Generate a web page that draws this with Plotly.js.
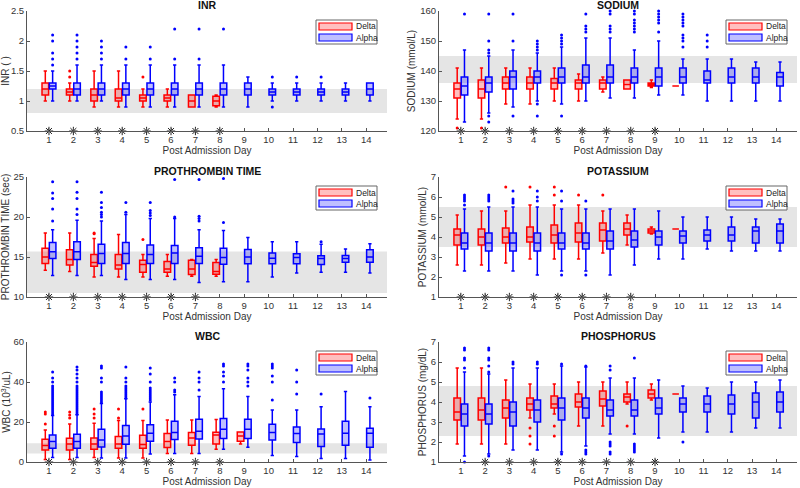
<!DOCTYPE html>
<html><head><meta charset="utf-8">
<script src="https://cdn.plot.ly/plotly-3.0.1.min.js"></script>
<style>html,body{margin:0;padding:0;background:#fff}#chart{width:800px;height:488px}</style>
</head><body><div id="chart"></div>
<script>
const days = [1,2,3,4,5,6,7,8,9,10,11,12,13,14];

// ---------- INR ----------
const inrNormal = [0.8, 1.2];
const inrStars = [1,2,3,4,5,6,7,8];
const inrDeltaLo  = [1.0, 1.0, 0.9, 0.9, 0.9, 0.9, 0.9, 0.9];
const inrDeltaQ1  = [1.1, 1.1, 1.0, 1.0, 1.0, 1.0, 0.9, 0.92];
const inrDeltaMed = [1.2, 1.15, 1.1, 1.05, 1.05, 1.05, 1.0, 1.0];
const inrDeltaQ3  = [1.3, 1.2, 1.2, 1.2, 1.1, 1.1, 1.1, 1.08];
const inrDeltaHi  = [1.5, 1.3, 1.5, 1.5, 1.2, 1.2, 1.1, 1.1];
const inrDeltaOut = [[], [1.4, 1.5], [], [], [1.4], [], [], []];
const inrAlphaLo  = [1.0, 1.0, 1.0, 0.9, 0.9, 0.9, 0.9, 0.9, 0.9, 1.0, 1.0, 1.0, 1.0, 1.0];
const inrAlphaQ1  = [1.2, 1.1, 1.1, 1.1, 1.1, 1.1, 1.1, 1.1, 1.1, 1.1, 1.1, 1.1, 1.1, 1.1];
const inrAlphaMed = [1.25, 1.2, 1.2, 1.2, 1.2, 1.2, 1.2, 1.2, 1.2, 1.15, 1.15, 1.15, 1.15, 1.2];
const inrAlphaQ3  = [1.3, 1.3, 1.3, 1.3, 1.3, 1.3, 1.3, 1.3, 1.3, 1.2, 1.2, 1.2, 1.2, 1.3];
const inrAlphaHi  = [1.5, 1.6, 1.6, 1.6, 1.6, 1.6, 1.6, 1.6, 1.4, 1.3, 1.3, 1.3, 1.3, 1.3];
const inrAlphaOut = [[1.6,1.7,1.8,2.0,2.1],[1.7,1.8,1.9,2.0,2.1],[1.7,1.8,1.9,2.0],[1.7,1.9],[1.7,1.9],[1.7,2.2],[1.7,2.2],[2.2],[],[1.4,0.9],[1.4],[1.4],[],[]];

// ---------- SODIUM ----------
const naNormal = [136, 145];
const naStars = [1,2,3,4,5,6,7,8,9];
const naDeltaLo  = [124, 124, 129, 129, 130, 130, 133, 134, 134.5, 135];
const naDeltaQ1  = [131, 131, 134, 134, 134, 134, 134, 134, 135, 135];
const naDeltaMed = [134, 134, 136, 136, 136, 136, 136, 135.5, 135.5, 135];
const naDeltaQ3  = [136, 137, 138, 138, 137.5, 137, 137, 137, 136, 135];
const naDeltaHi  = [141, 141, 141, 141, 141, 139, 138, 137, 137, 135];
const naDeltaOut = [[121],[121],[],[],[],[],[],[],[],[]];
const naAlphaLo  = [123, 126, 128, 130, 129, 130, 131, 131, 132, 132, 130, 130, 130, 130];
const naAlphaQ1  = [132, 133, 134, 136, 136, 136, 136, 136, 135, 136, 136, 136, 136, 135];
const naAlphaMed = [135, 136, 138, 138, 138, 138, 138, 138, 138, 138, 137, 138, 138, 138];
const naAlphaQ3  = [138, 138, 140, 140, 141, 142, 142, 141, 141, 141, 140, 141, 141, 139.5];
const naAlphaHi  = [147, 145, 147, 146, 148, 151, 151, 147, 150, 144, 144, 144, 143, 143];
const naAlphaOut = [[159],[146,147,150,159,125,123],[150,159,125],[147,148,149,150,129,125],[149,150,151,152,125],[153,154,155,159],[153,154,155,159,160],[153,154,155,156,157,159,160],[153,156,157,158,159,160],[148,150,151,152,155,156,157,158,159],[148,150,152],[],[],[]];

// ---------- PROTHROMBIN TIME ----------
const ptNormal = [10.5, 15.7];
const ptStars = [1,2,3,4,5,6,7];
const ptDeltaLo  = [13.35, 13.2, 12.5, 12.5, 12.5, 12.6, 12.6, 12.6];
const ptDeltaQ1  = [14.2, 14.0, 13.85, 13.5, 13.1, 13.1, 12.8, 12.85];
const ptDeltaMed = [15.0, 14.7, 14.3, 14.0, 14.05, 13.5, 13.5, 13.2];
const ptDeltaQ3  = [16.1, 15.9, 15.3, 15.3, 14.6, 14.45, 14.6, 14.3];
const ptDeltaHi  = [18.0, 18.0, 17.3, 17.8, 15.3, 15.3, 14.7, 14.7];
const ptDeltaOut = [[],[],[17.9,18.0],[],[17.2],[],[],[]];
const ptAlphaLo  = [12.7, 12.7, 12.7, 12.2, 12.2, 12.2, 11.8, 11.9, 11.9, 12.5, 13.0, 13.1, 13.1, 13.0];
const ptAlphaQ1  = [14.8, 14.7, 14.2, 14.2, 14.2, 14.2, 14.2, 14.1, 14.15, 14.15, 14.15, 14.05, 14.35, 14.35];
const ptAlphaMed = [15.65, 15.65, 15.45, 15.45, 15.3, 15.5, 15.1, 14.95, 15.0, 14.85, 14.95, 14.8, 14.8, 15.0];
const ptAlphaQ3  = [16.8, 16.9, 16.6, 16.8, 16.5, 16.45, 16.15, 16.1, 15.95, 15.5, 15.4, 15.15, 15.2, 15.9];
const ptAlphaHi  = [18.4, 19.6, 19.5, 20.3, 19.8, 19.8, 18.4, 18.3, 17.45, 16.9, 16.9, 16.6, 16.0, 16.65];
const ptAlphaOut = [[19.5,21.0,22.3,23.0,24.4],[20.3,21.0,22.3,23.1,24.4],[20.0,20.3,20.6,21.2,21.8,23.1],[20.6,21.8],[20.2,20.5,20.8,21.8],[20.0,24.7],[19.5,19.8,20.1,24.7],[19.3,24.8],[],[],[],[16.9],[],[]];

// ---------- POTASSIUM ----------
const kNormal = [3.5, 5.5];
const kStars = [1,2,3,4,5,6,7,8];
const kDeltaLo  = [2.6, 2.6, 2.7, 2.9, 2.9, 2.9, 3.2, 3.6, 4.15, 4.4];
const kDeltaQ1  = [3.6, 3.6, 3.7, 3.75, 3.7, 3.75, 3.8, 4.1, 4.2, 4.4];
const kDeltaMed = [4.1, 4.0, 4.0, 4.0, 4.1, 4.2, 4.35, 4.4, 4.3, 4.4];
const kDeltaQ3  = [4.4, 4.4, 4.45, 4.5, 4.6, 4.7, 4.7, 4.7, 4.4, 4.4];
const kDeltaHi  = [5.1, 5.3, 5.3, 5.6, 5.6, 5.6, 5.3, 5.1, 4.5, 4.4];
const kDeltaOut = [[],[],[6.5],[6.5],[6.1,6.5],[6.1],[6.1],[],[],[]];
const kAlphaLo  = [2.3, 2.3, 2.3, 2.1, 2.3, 2.3, 2.1, 2.6, 2.9, 2.9, 3.4, 3.3, 3.3, 3.3];
const kAlphaQ1  = [3.4, 3.3, 3.3, 3.3, 3.4, 3.4, 3.4, 3.5, 3.6, 3.7, 3.8, 3.8, 3.7, 3.7];
const kAlphaMed = [3.7, 3.7, 3.7, 3.7, 3.7, 3.7, 3.8, 3.85, 4.0, 4.05, 4.1, 4.1, 4.3, 4.3];
const kAlphaQ3  = [4.2, 4.2, 4.2, 4.2, 4.2, 4.2, 4.3, 4.3, 4.3, 4.3, 4.35, 4.5, 4.5, 4.65];
const kAlphaHi  = [5.4, 5.5, 5.5, 5.5, 5.4, 5.4, 5.4, 5.4, 5.3, 5.0, 5.0, 5.0, 4.9, 4.9];
const kAlphaOut = [[5.6,5.8,5.9,6.0,6.1],[5.8,5.9,6.0,6.1],[5.7,5.8,5.9,6.3],[5.8,6.0,6.3],[5.8,6.3,2.1],[5.8,2.1],[],[],[],[],[],[],[],[]];

// ---------- WBC ----------
const wbcNormal = [4.2, 9.4];
const wbcStars = [1,2,3,4,5,6,7,8];
const wbcDeltaLo  = [1.2, 1.2, 2.3, 2.0, 2.0, 4.3, 4.3, 6.4, 9.0];
const wbcDeltaQ1  = [6.0, 6.0, 6.4, 6.9, 6.9, 7.2, 8.4, 9.0, 10.4];
const wbcDeltaMed = [8.2, 9.0, 9.0, 9.0, 8.7, 10.2, 12.0, 13.5, 13.0];
const wbcDeltaQ3  = [11.4, 11.9, 12.0, 12.7, 13.4, 14.2, 14.7, 14.9, 15.0];
const wbcDeltaHi  = [16.0, 19.0, 19.4, 20.7, 20.7, 21.0, 21.0, 21.2, 15.0];
const wbcDeltaOut = [[19,24,25],[22,23.5,25],[22,24,26.5],[22,26.5],[26.5],[],[],[],[]];
const wbcAlphaLo  = [2.3, 2.3, 2.0, 2.0, 4.0, 4.3, 4.3, 6.4, 7.4, 3.2, 2.8, 1.8, 1.7, 1.0];
const wbcAlphaQ1  = [6.9, 6.9, 7.5, 8.9, 10.4, 11.2, 11.5, 11.7, 11.7, 11.0, 9.7, 7.7, 8.4, 7.4];
const wbcAlphaMed = [10.2, 10.2, 11.0, 13.0, 14.4, 14.7, 15.4, 16.4, 16.4, 14.7, 14.2, 14.0, 14.4, 14.4];
const wbcAlphaQ3  = [13.5, 13.9, 16.4, 18.2, 18.6, 20.4, 21.4, 21.7, 21.4, 18.9, 17.5, 16.5, 20.4, 16.9];
const wbcAlphaHi  = [23.2, 23.6, 29.2, 31.6, 30.0, 33.6, 32.8, 36.6, 32.8, 26.0, 26.0, 27.6, 35.3, 27.6];
const wbcAlphaOut = [
  [24,25,26,27,28,29,30,31,32,33,34,35,36,37,38,40,42,45],
  [24,25,26,27,28,29,30,31,32,33,34,35,36,37,38,40,42,44,46,47.5],
  [30,31,32,33,34,35,40,42,47,48],
  [32,33,34,35,36,37,38,40,42,47.5],
  [31,32,33,34,35,36,37,40,44,47],
  [35,36,40,42],
  [36,40,42,45],
  [40,43,45,48,49],
  [38,40,42,46,48,49],
  [31,40,43,47,48,49],
  [34,40,46],
  [34],
  [],
  [32]];

// ---------- PHOSPHORUS ----------
const pNormal = [2.3, 4.8];
const pStars = [2,3,4,5,6,7,8,9];
const pDeltaLo  = [1.9, 1.9, 1.9, 3.2, 3.4, 2.8, 2.8, 3.9, 4.1, 4.4];
const pDeltaQ1  = [3.1, 3.1, 3.2, 3.6, 3.7, 3.75, 3.8, 4.0, 4.2, 4.4];
const pDeltaMed = [3.5, 3.6, 3.7, 3.9, 3.9, 4.0, 4.15, 4.25, 4.4, 4.4];
const pDeltaQ3  = [4.2, 4.2, 4.1, 4.2, 4.3, 4.4, 4.55, 4.4, 4.6, 4.4];
const pDeltaHi  = [5.7, 5.7, 5.1, 4.9, 4.9, 5.0, 5.0, 5.0, 4.9, 4.4];
const pDeltaOut = [[],[],[],[1.9,2.3,2.7],[2.3,2.8],[],[],[2.8],[],[]];
const pAlphaLo  = [1.3, 1.4, 1.6, 1.6, 1.5, 1.8, 2.4, 2.4, 2.2, 2.5, 2.5, 2.5, 2.7, 2.7];
const pAlphaQ1  = [2.8, 2.9, 2.8, 3.0, 3.1, 3.2, 3.3, 3.3, 3.4, 3.5, 3.5, 3.4, 3.2, 3.5];
const pAlphaMed = [3.4, 3.4, 3.5, 3.6, 3.7, 3.7, 3.6, 3.6, 3.7, 3.9, 3.9, 3.9, 4.0, 4.0];
const pAlphaQ3  = [3.9, 3.9, 4.0, 4.1, 4.2, 4.2, 4.1, 4.1, 4.2, 4.2, 4.3, 4.35, 4.45, 4.5];
const pAlphaHi  = [5.5, 5.4, 5.7, 5.7, 5.8, 5.75, 5.2, 5.2, 5.1, 4.8, 4.7, 5.0, 5.0, 5.1];
const pAlphaOut = [[5.7,6.1,6.2,6.6,6.7,1.0],[5.5,5.8,6.1,6.2,6.6,6.7,1.3],[5.9,6.0],[5.9,6.0],[5.9,1.4],[5.8,1.4,1.5,1.6],[5.6,5.8,1.4,1.5,1.8,1.9,2.0],[6.2,1.5,1.6,1.7,1.8,1.9],[],[2.0],[],[],[],[]];

// ---------- drawing ----------
const W = 800, H = 488;
const RED = '#ff0000', BLUE = '#0000ff';
const RED_FILL = 'rgba(255,0,0,0.25)', BLUE_FILL = 'rgba(0,0,255,0.25)';
const OFF = 0.15, BOXW = 0.27;
const FONT = 'Liberation Sans, Arial, sans-serif';
const cols = [[27, 387], [439, 797]];
const rows = [[11, 131], [177, 297], [342, 462]];

const panels = [
  {title:'INR', ytitle:'INR ( )', range:[0.5,2.5], dtick:0.5, c:0, r:0, band:inrNormal, stars:inrStars,
   d:[inrDeltaLo,inrDeltaQ1,inrDeltaMed,inrDeltaQ3,inrDeltaHi,inrDeltaOut],
   a:[inrAlphaLo,inrAlphaQ1,inrAlphaMed,inrAlphaQ3,inrAlphaHi,inrAlphaOut]},
  {title:'SODIUM', ytitle:'SODIUM (mmol/L)', range:[120,160], dtick:10, c:1, r:0, band:naNormal, stars:naStars,
   d:[naDeltaLo,naDeltaQ1,naDeltaMed,naDeltaQ3,naDeltaHi,naDeltaOut],
   a:[naAlphaLo,naAlphaQ1,naAlphaMed,naAlphaQ3,naAlphaHi,naAlphaOut]},
  {title:'PROTHROMBIN TIME', ytitle:'PROTHROMBIN TIME (sec)', range:[10,25], dtick:5, c:0, r:1, band:ptNormal, stars:ptStars,
   d:[ptDeltaLo,ptDeltaQ1,ptDeltaMed,ptDeltaQ3,ptDeltaHi,ptDeltaOut],
   a:[ptAlphaLo,ptAlphaQ1,ptAlphaMed,ptAlphaQ3,ptAlphaHi,ptAlphaOut]},
  {title:'POTASSIUM', ytitle:'POTASSIUM (mmol/L)', range:[1,7], dtick:1, c:1, r:1, band:kNormal, stars:kStars,
   d:[kDeltaLo,kDeltaQ1,kDeltaMed,kDeltaQ3,kDeltaHi,kDeltaOut],
   a:[kAlphaLo,kAlphaQ1,kAlphaMed,kAlphaQ3,kAlphaHi,kAlphaOut]},
  {title:'WBC', ytitle:'WBC (10<sup>3</sup>/uL)', range:[0,60], dtick:20, c:0, r:2, band:wbcNormal, stars:wbcStars,
   d:[wbcDeltaLo,wbcDeltaQ1,wbcDeltaMed,wbcDeltaQ3,wbcDeltaHi,wbcDeltaOut],
   a:[wbcAlphaLo,wbcAlphaQ1,wbcAlphaMed,wbcAlphaQ3,wbcAlphaHi,wbcAlphaOut]},
  {title:'PHOSPHORUS', ytitle:'PHOSPHORUS (mg/dL)', range:[1,7], dtick:1, c:1, r:2, band:pNormal, stars:pStars,
   d:[pDeltaLo,pDeltaQ1,pDeltaMed,pDeltaQ3,pDeltaHi,pDeltaOut],
   a:[pAlphaLo,pAlphaQ1,pAlphaMed,pAlphaQ3,pAlphaHi,pAlphaOut]}
];

const traces = [], shapes = [], annotations = [];
const layout = {
  width: W, height: H, margin: {l:0, r:0, t:0, b:0},
  paper_bgcolor: '#fff', plot_bgcolor: '#fff', showlegend: false,
  font: {family: FONT, color: '#262626'}, boxmode: 'overlay'
};
const px = p => p / W, py = p => 1 - p / H;

panels.forEach((p, i) => {
  const n = i === 0 ? '' : String(i + 1);
  const xa = 'x' + n, ya = 'y' + n;
  const xd = [px(cols[p.c][0]), px(cols[p.c][1])];
  const yd = [py(rows[p.r][1]), py(rows[p.r][0])];
  const axCommon = {showline:true, linecolor:'#555', linewidth:1, showgrid:false, zeroline:false,
    ticks:'inside', ticklen:3, tickcolor:'#555', tickfont:{size:9.5, color:'#333'}, automargin:false};
  layout['xaxis' + n] = Object.assign({}, axCommon, {domain: xd, anchor: ya, range: [0.1, 14.85],
    tickmode:'array', tickvals: days, ticktext: days.map(String),
    title: {text: 'Post Admission Day', font: {size: 10, color:'#333'}, standoff: 2}});
  layout['yaxis' + n] = Object.assign({}, axCommon, {domain: yd, anchor: xa, range: p.range,
    tick0: p.range[0], dtick: p.dtick,
    title: {text: p.ytitle, font: {size: 10, color:'#333'}, standoff: 2}});

  [[p.d, -OFF, RED, RED_FILL], [p.a, OFF, BLUE, BLUE_FILL]].forEach(([s, off, col, fill]) => {
    const [lo, q1, med, q3, hi, out] = s;
    const xs = q1.map((_, k) => days[k] + off);
    traces.push({type:'box', x: xs, q1: q1, median: med, q3: q3, lowerfence: lo, upperfence: hi,
      width: BOXW, whiskerwidth: 0.5, line: {color: col, width: 1.5}, fillcolor: fill,
      boxpoints: false, xaxis: xa, yaxis: ya, hoverinfo: 'skip'});
    const ox = [], oy = [];
    out.forEach((arr, k) => arr.forEach(v => { ox.push(days[k] + off); oy.push(v); }));
    traces.push({type:'scatter', mode:'markers', x: ox, y: oy, marker: {color: col, size: 3},
      xaxis: xa, yaxis: ya, hoverinfo: 'skip', cliponaxis: false});
  });
  traces.push({type:'scatter', mode:'markers', x: p.stars, y: p.stars.map(() => p.range[0]),
    marker: {symbol:'asterisk-open', size: 7, color:'#222', line: {color:'#222', width: 1}},
    xaxis: xa, yaxis: ya, hoverinfo: 'skip', cliponaxis: false});

  shapes.push({type:'rect', xref: xa + ' domain', yref: ya, x0: 0, x1: 1, y0: p.band[0], y1: p.band[1],
    fillcolor: '#e5e5e5', line: {width: 0}, layer: 'below'});

  annotations.push({text: '<b>' + p.title + '</b>', xref:'paper', yref:'paper',
    x: (xd[0] + xd[1]) / 2, y: py(rows[p.r][0] - 6), showarrow: false,
    font: {size: 10.5, color: '#111'}, xanchor: 'center', yanchor: 'middle'});

  // legend box
  const Lx = cols[p.c][1] - 71, Ty = rows[p.r][0] + 9;
  shapes.push({type:'rect', xref:'paper', yref:'paper', x0: px(Lx), x1: px(Lx + 61), y0: py(Ty + 24), y1: py(Ty),
    fillcolor:'#fff', line: {color:'#666', width: 1}, layer:'above'});
  [['Delta', RED, RED_FILL, 3], ['Alpha', BLUE, BLUE_FILL, 14]].forEach(([lab, col, fill, dy]) => {
    shapes.push({type:'rect', xref:'paper', yref:'paper', x0: px(Lx + 3), x1: px(Lx + 36),
      y0: py(Ty + dy + 7), y1: py(Ty + dy), fillcolor: fill, line: {color: col, width: 1.2}, layer:'above'});
    annotations.push({text: lab, xref:'paper', yref:'paper', x: px(Lx + 38), y: py(Ty + dy + 3.5),
      xanchor:'left', yanchor:'middle', showarrow:false, font: {size: 8.5, color:'#222'}});
  });
});

layout.shapes = shapes;
layout.annotations = annotations;
Plotly.newPlot('chart', traces, layout, {staticPlot: true, displayModeBar: false});
</script>
</body></html>
